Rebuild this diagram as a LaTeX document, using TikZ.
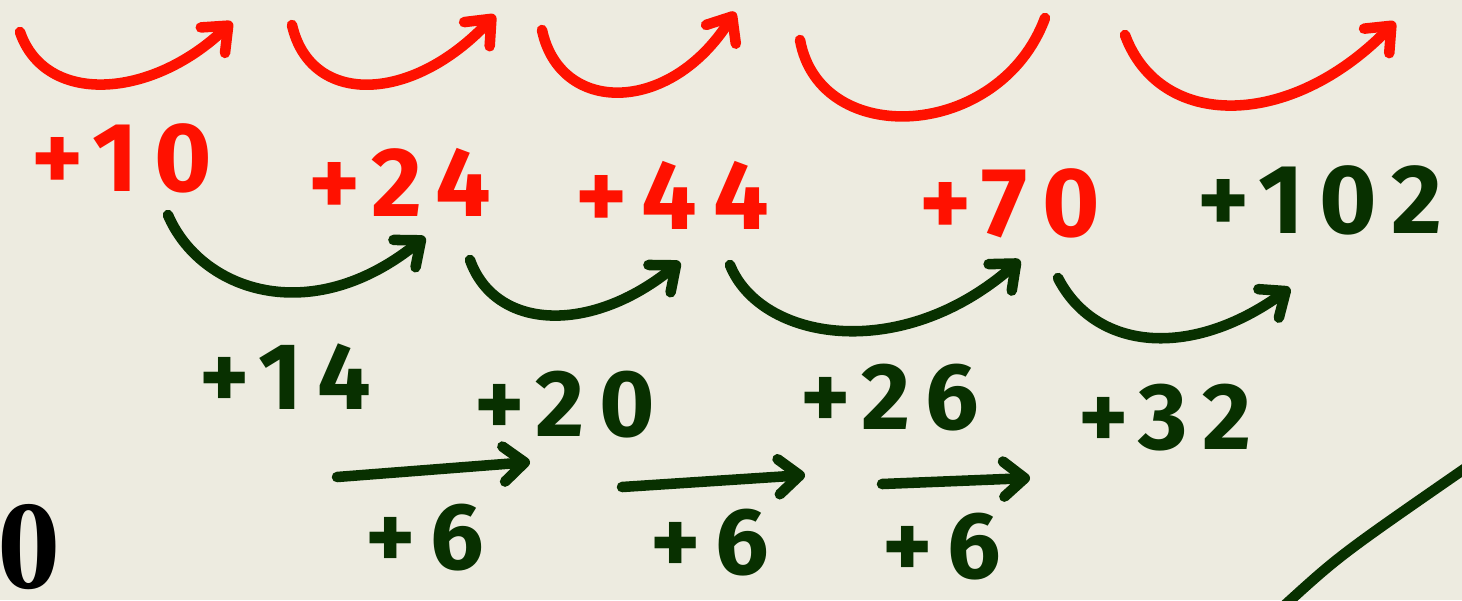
\documentclass[tikz,border=0pt]{standalone}
\usepackage{fontspec}
\usetikzlibrary{arrows.meta}
\newfontfamily\handfont{Fira Sans}[LetterSpace=16]
\newfontfamily\zerofont{Liberation Serif}
\definecolor{paper}{HTML}{EDEBE0}
\definecolor{diffred}{HTML}{FF1100}
\definecolor{diffgreen}{HTML}{083000}
\tikzset{
  redlbl/.style={font=\handfont\fontsize{56}{56}\selectfont\bfseries,text=diffred,inner sep=0pt},
  grnlbl/.style={font=\handfont\fontsize{54}{54}\selectfont\bfseries,text=diffgreen,inner sep=0pt},
  redarc/.style={diffred,line width=6pt,line cap=round,line join=round},
  grnarc/.style={diffgreen,line width=6pt,line cap=round,line join=round},
  tip/.style={-{Straight Barb[length=12pt,width=20pt,round]}}
}

\begin{document}
\begin{tikzpicture}[x=0.02cm,y=-0.02cm]
  % paper
  \fill[paper] (0,0) rectangle (1462,600);
  \useasboundingbox (0,0) rectangle (1462,600);
  \clip (0,0) rectangle (1462,600);

  % first differences
  \node[redlbl] (d10) at (122,158) {+10};
  \node[redlbl] (d24) at (400,182) {+24};
  \node[redlbl] (d44) at (672,195) {+44};
  \node[redlbl] (d70) at (1010,203) {+70};
  \node[grnlbl,font=\handfont\fontsize{56}{56}\selectfont\bfseries] (d102) at (1320,200) {+102};

  % second differences
  \node[grnlbl] (e14) at (285,377) {+14};
  \node[grnlbl] (e20) at (565,405) {+20};
  \node[grnlbl] (e26) at (890,398) {+26};
  \node[grnlbl] (e32) at (1165,418) {+32};

  % third differences
  \node[grnlbl] (f6a) at (425,538) {+6};
  \node[grnlbl] (f6b) at (710,543) {+6};
  \node[grnlbl] (f6c) at (942,547) {+6};

  % the zero at the edge
  \node[font=\zerofont\fontsize{72}{72}\selectfont\bfseries,inner sep=0pt] (zero) at (29,547) {0};

  % red hops on top
  \draw[redarc,tip] (20,32) .. controls (45,105) and (150,100) .. (232,22);
  \draw[redarc,tip] (292,25) .. controls (310,105) and (410,105) .. (495,15);
  \draw[redarc,tip] (542,30) .. controls (560,115) and (670,115) .. (735,12);
  \draw[redarc] (800,40) .. controls (820,150) and (1000,140) .. (1045,18);
  \draw[redarc,tip] (1125,35) .. controls (1160,130) and (1290,130) .. (1395,22);

  % green hops
  \draw[grnarc,tip] (168,215) .. controls (200,290) and (310,330) .. (425,237);
  \draw[grnarc,tip] (470,260) .. controls (495,330) and (590,335) .. (680,262);
  \draw[grnarc,tip] (730,265) .. controls (760,340) and (900,365) .. (1020,260);
  \draw[grnarc,tip] (1058,278) .. controls (1095,350) and (1190,360) .. (1290,288);

  % straight steps
  \draw[grnarc,tip] (337,477) -- (530,462);
  \draw[grnarc,tip] (622,487) -- (805,475);
  \draw[grnarc,tip] (882,484) -- (1030,478);

  % stroke leaving the corner
  \draw[grnarc] (1285,605) .. controls (1340,555) .. (1470,465);
\end{tikzpicture}
\end{document}
